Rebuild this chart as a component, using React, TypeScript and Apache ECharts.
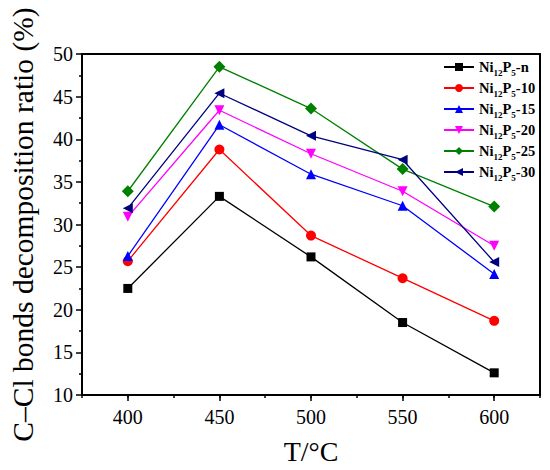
import React, { useEffect, useRef } from "react";
import * as echarts from "echarts";

const xCats = ["400", "450", "500", "550", "600"];
const seriesNames = ["Ni12P5-n", "Ni12P5-10", "Ni12P5-15", "Ni12P5-20", "Ni12P5-25", "Ni12P5-30"];
const suffixes = ["n", "10", "15", "20", "25", "30"];
const valsN = [22.5, 33.3, 26.2, 18.5, 12.6];
const vals10 = [25.7, 38.8, 28.7, 23.7, 18.7];
const vals15 = [26.3, 41.7, 35.9, 32.2, 24.2];
const vals20 = [30.9, 43.4, 38.3, 33.9, 27.5];
const vals25 = [33.9, 48.5, 43.6, 36.5, 32.1];
const vals30 = [31.9, 45.4, 40.4, 37.6, 25.6];
const allVals = [valsN, vals10, vals15, vals20, vals25, vals30];
const colors = ["#000000", "#ff0000", "#0000ff", "#ff00ff", "#008000", "#000080"];
const symbols = ["rect", "circle", "triangle", "triangle", "diamond", "triangle"];
const rotations = [0, 0, 0, 180, 0, 90];
const sizes = [9, 10, 10, 10, 12, 10];

const FONT = "'Liberation Serif', 'Times New Roman', serif";

export default function App() {
  const ref = useRef<HTMLDivElement>(null);
  useEffect(() => {
    if (!ref.current) return;
    const chart = echarts.init(ref.current, null, { renderer: "svg" });
    const series = allVals.map((vals, i) => ({
      name: seriesNames[i],
      type: "line",
      xAxisIndex: 0,
      yAxisIndex: 0,
      data: vals,
      symbol: symbols[i],
      symbolSize: sizes[i],
      symbolRotate: rotations[i],
      lineStyle: { color: colors[i], width: 1.3 },
      itemStyle: { color: colors[i] },
      emphasis: { disabled: true },
    }));
    chart.setOption({
      animation: false,
      backgroundColor: "#ffffff",
      grid: { left: 76, right: 10, top: 54, bottom: 75 },
      legend: {
        orient: "vertical",
        left: 438,
        top: 54,
        itemWidth: 30,
        itemHeight: 10,
        itemGap: 3,
        data: seriesNames,
        formatter: (name: string) => {
          const i = seriesNames.indexOf(name);
          return `{b|Ni}{s|12}{b|P}{s|5}{b|-${suffixes[i]}}`;
        },
        textStyle: {
          fontFamily: FONT,
          fontWeight: "bold",
          color: "#000",
          rich: {
            b: { fontFamily: FONT, fontWeight: "bold", fontSize: 14.5, color: "#000", lineHeight: 14, verticalAlign: "bottom" },
            s: { fontFamily: FONT, fontWeight: "bold", fontSize: 9, color: "#000", lineHeight: 9, verticalAlign: "bottom", padding: [0, 0, -3, 0] },
          },
        },
      },
      xAxis: [
        {
          type: "category",
          data: xCats,
          boundaryGap: true,
          position: "bottom",
          name: "T/°C",
          nameLocation: "middle",
          nameGap: 42,
          nameTextStyle: { fontFamily: FONT, fontSize: 28, color: "#000" },
          axisLine: { show: true, lineStyle: { color: "#000", width: 2 } },
          axisTick: { show: true, alignWithLabel: true, length: 6, lineStyle: { color: "#000", width: 1.5 } },
          axisLabel: { fontFamily: FONT, fontSize: 20, color: "#000", margin: 12 },
          splitLine: { show: false },
        },
        {
          type: "value",
          min: 375,
          max: 625,
          interval: 25,
          position: "bottom",
          axisLine: { show: false },
          axisTick: { show: true, length: 3, lineStyle: { color: "#000", width: 1.5 } },
          axisLabel: { show: false },
          splitLine: { show: false },
        },
        {
          type: "value",
          min: 375,
          max: 625,
          position: "top",
          axisLine: { show: true, lineStyle: { color: "#000", width: 2 } },
          axisTick: { show: false },
          axisLabel: { show: false },
          splitLine: { show: false },
        },
      ],
      yAxis: [
        {
          type: "value",
          min: 10,
          max: 50,
          interval: 5,
          position: "left",
          name: "C–Cl bonds decomposition ratio (%)",
          nameLocation: "middle",
          nameGap: 44,
          nameTextStyle: { fontFamily: FONT, fontSize: 29.5, color: "#000" },
          axisLine: { show: true, lineStyle: { color: "#000", width: 2 } },
          axisTick: { show: true, length: 6, lineStyle: { color: "#000", width: 1.5 } },
          minorTick: { show: true, splitNumber: 2, length: 3, lineStyle: { color: "#000", width: 1.5 } },
          axisLabel: { fontFamily: FONT, fontSize: 20, color: "#000", margin: 9 },
          splitLine: { show: false },
          minorSplitLine: { show: false },
        },
        {
          type: "value",
          min: 10,
          max: 50,
          position: "right",
          axisLine: { show: true, lineStyle: { color: "#000", width: 2 } },
          axisTick: { show: false },
          axisLabel: { show: false },
          splitLine: { show: false },
        },
      ],
      series,
    });
    return () => chart.dispose();
  }, []);
  return <div ref={ref} style={{ position: "fixed", left: 0, top: 0, width: 550, height: 470 }} />;
}
